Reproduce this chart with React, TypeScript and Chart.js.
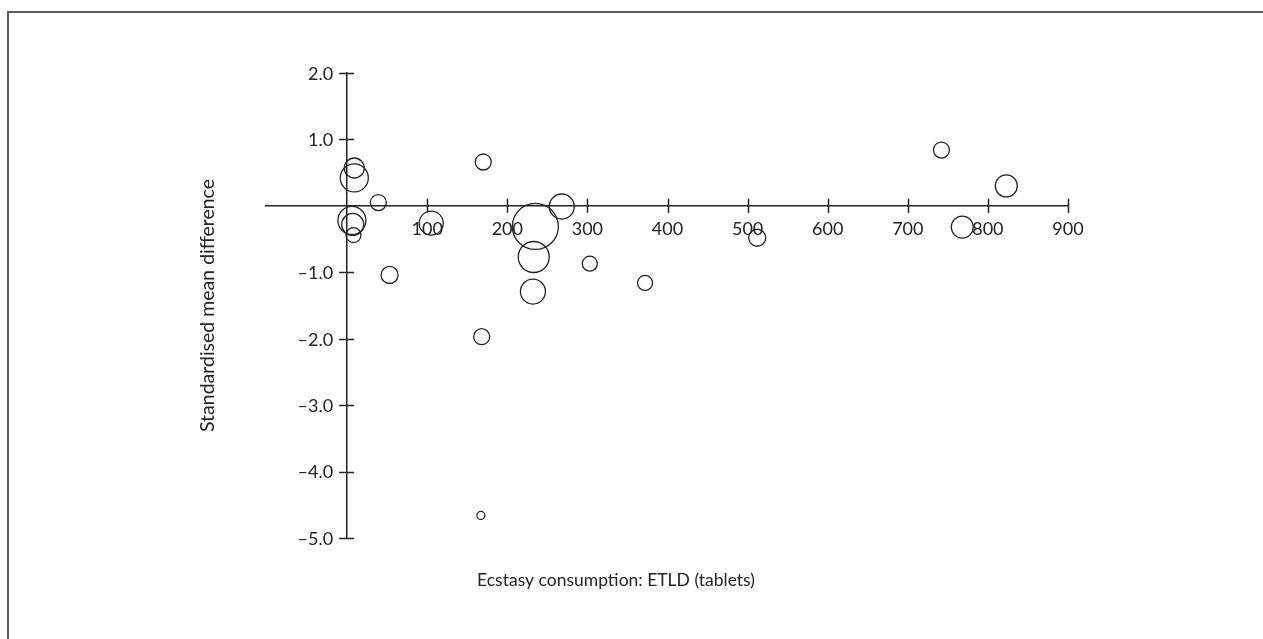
import React, { useEffect, useRef } from "react";
import { Chart, registerables } from "chart.js";

Chart.register(...registerables);

// ETLD (tablets), standardised mean difference, bubble radius (study weight)
const etld = [9, 9, 39, 6, 7, 8, 53, 105, 170, 168, 167, 235, 268, 233, 303, 232, 372, 512, 742, 823, 768];
const smd = [0.57, 0.42, 0.05, -0.22, -0.28, -0.44, -1.04, -0.26, 0.66, -1.97, -4.66, -0.31, -0.01, -0.77, -0.87, -1.29, -1.16, -0.48, 0.84, 0.3, -0.32];
const weight = [10, 14, 8, 14, 11, 7.5, 8.5, 12, 8, 8, 4, 23, 12.5, 15.5, 7.5, 12.5, 7.5, 8.5, 8, 11, 11];

const xTicks = [100, 200, 300, 400, 500, 600, 700, 800, 900];
const yTicks = [2, 1, -1, -2, -3, -4, -5];

const xTitle = "Ecstasy consumption: ETLD (tablets)";
const yTitle = "Standardised mean difference";

const INK = "#232323";
const FONT = "Lato";

const fmtY = (v: number) => (v < 0 ? "\u2013" : "") + Math.abs(v).toFixed(1);

const crossTicks = {
  id: "crossTicks",
  afterDraw(chart: any) {
    const { ctx, scales } = chart;
    const xs = scales.x;
    const ys = scales.y;
    const x0 = xs.getPixelForValue(0);
    const y0 = ys.getPixelForValue(0);
    ctx.save();
    ctx.strokeStyle = INK;
    ctx.lineWidth = 1.5;
    ctx.beginPath();
    xs.ticks.forEach((t: any) => {
      const px = Math.round(xs.getPixelForValue(t.value)) + 0.5;
      ctx.moveTo(px, y0 - 7);
      ctx.lineTo(px, y0 + 7);
    });
    ys.ticks.forEach((t: any) => {
      const py = Math.round(ys.getPixelForValue(t.value)) + 0.5;
      ctx.moveTo(x0 - 8, py);
      ctx.lineTo(x0 + 7, py);
    });
    ctx.stroke();
    ctx.fillStyle = INK;
    ctx.font = `18px ${FONT}`;
    ctx.textAlign = "right";
    ctx.textBaseline = "middle";
    ys.ticks.forEach((t: any) => {
      const py = ys.getPixelForValue(t.value) + 1;
      ctx.fillText(fmtY(t.value), x0 - 14, py);
    });
    ctx.restore();
  },
};

export default function App() {
  const ref = useRef<HTMLCanvasElement | null>(null);

  useEffect(() => {
    if (!ref.current) return;
    const chart = new Chart(ref.current, {
      type: "bubble",
      data: {
        datasets: [
          {
            data: etld.map((x, i) => ({ x, y: smd[i], r: weight[i] })),
            backgroundColor: "rgba(0,0,0,0)",
            borderColor: INK,
            borderWidth: 1.3,
          },
        ],
      },
      options: {
        animation: false,
        responsive: false,
        devicePixelRatio: 1,
        layout: { padding: { left: 155, right: 195, top: 60, bottom: 0 } },
        plugins: {
          legend: { display: false },
          tooltip: { enabled: false },
          title: {
            display: true,
            text: yTitle,
            position: "left",
            fullSize: false,
            color: INK,
            font: { family: FONT, size: 19.5, weight: "normal" },
            padding: { top: 32, bottom: 46 },
          },
          subtitle: {
            display: true,
            text: xTitle,
            position: "bottom",
            fullSize: true,
            color: INK,
            font: { family: FONT, size: 17.5, weight: "normal" },
            padding: { top: 32, bottom: 48 },
          },
        },
        scales: {
          x: {
            type: "linear",
            position: { y: 0 } as any,
            min: -102,
            max: 900,
            grid: { display: false },
            border: { display: true, color: INK, width: 1.5 },
            afterBuildTicks: (scale: any) => {
              scale.ticks = xTicks.map((value) => ({ value }));
            },
            ticks: {
              padding: 5,
              color: INK,
              font: { family: FONT, size: 18 },
              autoSkip: false,
              maxRotation: 0,
              callback: (v: any) => String(v),
            },
          },
          y: {
            type: "linear",
            position: { x: 0 } as any,
            min: -5,
            max: 2,
            grid: { display: false },
            border: { display: true, color: INK, width: 1.5 },
            afterBuildTicks: (scale: any) => {
              scale.ticks = yTicks.map((value) => ({ value }));
            },
            ticks: { display: false },
          },
        },
      },
      plugins: [crossTicks],
    });
    return () => chart.destroy();
  }, []);

  return (
    <div
      style={{
        position: "fixed",
        left: 7,
        top: 11,
        right: 0,
        bottom: 0,
        borderTop: "2px solid #5c5c5c",
        borderLeft: "2px solid #5c5c5c",
        background: "#fff",
      }}
    >
      <canvas ref={ref} width={1254} height={626} style={{ display: "block" }} />
    </div>
  );
}
